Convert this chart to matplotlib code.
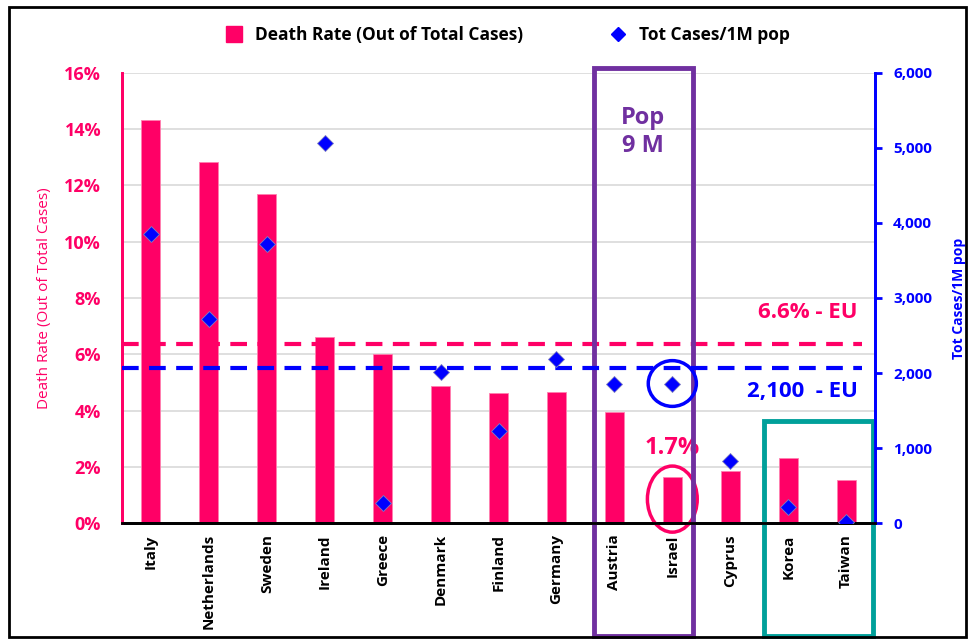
import numpy as np
import matplotlib.pyplot as plt
from matplotlib.patches import Rectangle, Ellipse
from matplotlib.lines import Line2D
from matplotlib.ticker import FuncFormatter

plt.rcParams['font.family'] = ['Open Sans', 'DejaVu Sans']

countries = ['Italy', 'Netherlands', 'Sweden', 'Ireland', 'Greece', 'Denmark', 'Finland',
             'Germany', 'Austria', 'Israel', 'Cyprus', 'Korea', 'Taiwan']
death_rate = [14.33, 12.82, 11.7, 6.6, 6.0, 4.88, 4.64, 4.67, 3.95, 1.65, 1.85, 2.3, 1.53]
cases_per_1m = [3850, 2720, 3720, 5070, 270, 2020, 1230, 2190, 1860, 1860, 830, 210, 20]
eu_death_rate = 6.36
eu_cases = 2070

PINK = '#FF0066'
BLUE = '#0000FF'
PURPLE = '#7030A0'
TEAL = '#00A09A'

fig = plt.figure(figsize=(9.68, 6.39), dpi=100)
ax = fig.add_axes([0.126, 0.1815, 0.778, 0.7043])
ax2 = ax.twinx()

x = np.arange(len(countries))
ax.bar(x, death_rate, width=0.33, color=PINK, edgecolor='#FF7FAF', linewidth=0.6, zorder=2,
       label='Death Rate (Out of Total Cases)')
ax.set_xlim(-0.5, len(countries) - 0.5)
ax.set_ylim(0, 16)
ax.set_yticks(np.arange(0, 17, 2))
ax.yaxis.set_major_formatter(FuncFormatter(lambda v, p: '{:d}%'.format(int(v))))
ax.grid(axis='y', color='#D9D9D9', linewidth=1.2, zorder=0)
ax.set_axisbelow(True)
ax.set_xticks(x)
ax.set_xticklabels(countries, rotation=90, fontsize=11, fontweight='bold', color='black')
ax.tick_params(axis='x', length=0, pad=8)
ax.tick_params(axis='y', length=0, colors=PINK, labelsize=13, pad=15)
for lab in ax.get_yticklabels():
    lab.set_fontweight('bold')
ax.set_ylabel('Death Rate (Out of Total Cases)', color=PINK, fontsize=11, labelpad=9)

ax2.plot(x, cases_per_1m, linestyle='none', marker='D', markersize=8.5, color=BLUE,
         markeredgecolor='#8080C0', markeredgewidth=0.6, zorder=4, label='Tot Cases/1M pop')
ax2.set_ylim(0, 6000)
ax2.set_yticks(np.arange(0, 6001, 1000))
ax2.yaxis.set_major_formatter(FuncFormatter(lambda v, p: '{:,}'.format(int(v))))
ax2.tick_params(axis='y', colors=BLUE, labelsize=11, length=5, width=2, pad=8)
for lab in ax2.get_yticklabels():
    lab.set_fontweight('bold')
ax2.set_ylabel('Tot Cases/1M pop', color=BLUE, fontsize=10, fontweight='bold', labelpad=14)

for a in (ax, ax2):
    a.spines['top'].set_visible(False)
    a.spines['left'].set_color(PINK)
    a.spines['left'].set_linewidth(2)
    a.spines['right'].set_color(BLUE)
    a.spines['right'].set_linewidth(2)
    a.spines['bottom'].set_color('black')
    a.spines['bottom'].set_linewidth(2)

# EU reference lines
xl = [-0.5, 12.27]
ax.plot(xl, [eu_death_rate, eu_death_rate], color=PINK, linestyle=(0, (4, 2.5)), linewidth=3, zorder=3)
ax2.plot(xl, [eu_cases, eu_cases], color=BLUE, linestyle=(0, (4, 2.5)), linewidth=3, zorder=3)
ax.text(12.2, eu_death_rate + 1.12, '6.6% - EU', color=PINK, fontsize=16, fontweight='bold',
        ha='right', va='center', zorder=5)
ax2.text(12.2, eu_cases - 320, '2,100  - EU', color=BLUE, fontsize=16, fontweight='bold',
         ha='right', va='center', zorder=5)

# Israel highlights
isr = countries.index('Israel')
ax.text(isr, 2.65, '{:.1f}%'.format(1.7), color=PINK, fontsize=17, fontweight='bold',
        ha='center', va='center', zorder=5)
ax.add_patch(Ellipse((isr, 0.85), width=0.86, height=2.35, fill=False, edgecolor=PINK,
                     linewidth=2.5, zorder=5, clip_on=False))
ax2.add_patch(Ellipse((isr, cases_per_1m[isr]), width=0.83, height=610, fill=False,
                      edgecolor=BLUE, linewidth=2.5, zorder=5, clip_on=False))

# boxes
ax.add_patch(Rectangle((7.65, -4.0), 1.71, 20.16, fill=False, edgecolor=PURPLE, linewidth=3.5,
                       zorder=6, clip_on=False))
ax.text(8.5, 13.9, 'Pop\n9 M', color=PURPLE, fontsize=17, fontweight='bold', ha='center',
        va='center', linespacing=1.25, zorder=6)
ax.add_patch(Rectangle((10.58, -4.0), 1.89, 7.63, fill=False, edgecolor=TEAL, linewidth=3.5,
                       zorder=6, clip_on=False))

# legend
handles = [Line2D([], [], marker='s', linestyle='none', color=PINK, markersize=11),
           Line2D([], [], marker='D', linestyle='none', color=BLUE, markersize=7)]
fig.legend(handles, ['Death Rate (Out of Total Cases)', 'Tot Cases/1M pop'], loc='center',
           bbox_to_anchor=(0.52, 0.945), ncol=2, frameon=False, handletextpad=0.2,
           columnspacing=4.5, prop={'weight': 'bold', 'size': 12.5})

# outer frame
fig.patches.append(Rectangle((0.009, 0.003), 0.989, 0.986, transform=fig.transFigure,
                             fill=False, edgecolor='black', linewidth=2))

fig.savefig('out.png', dpi=100)
